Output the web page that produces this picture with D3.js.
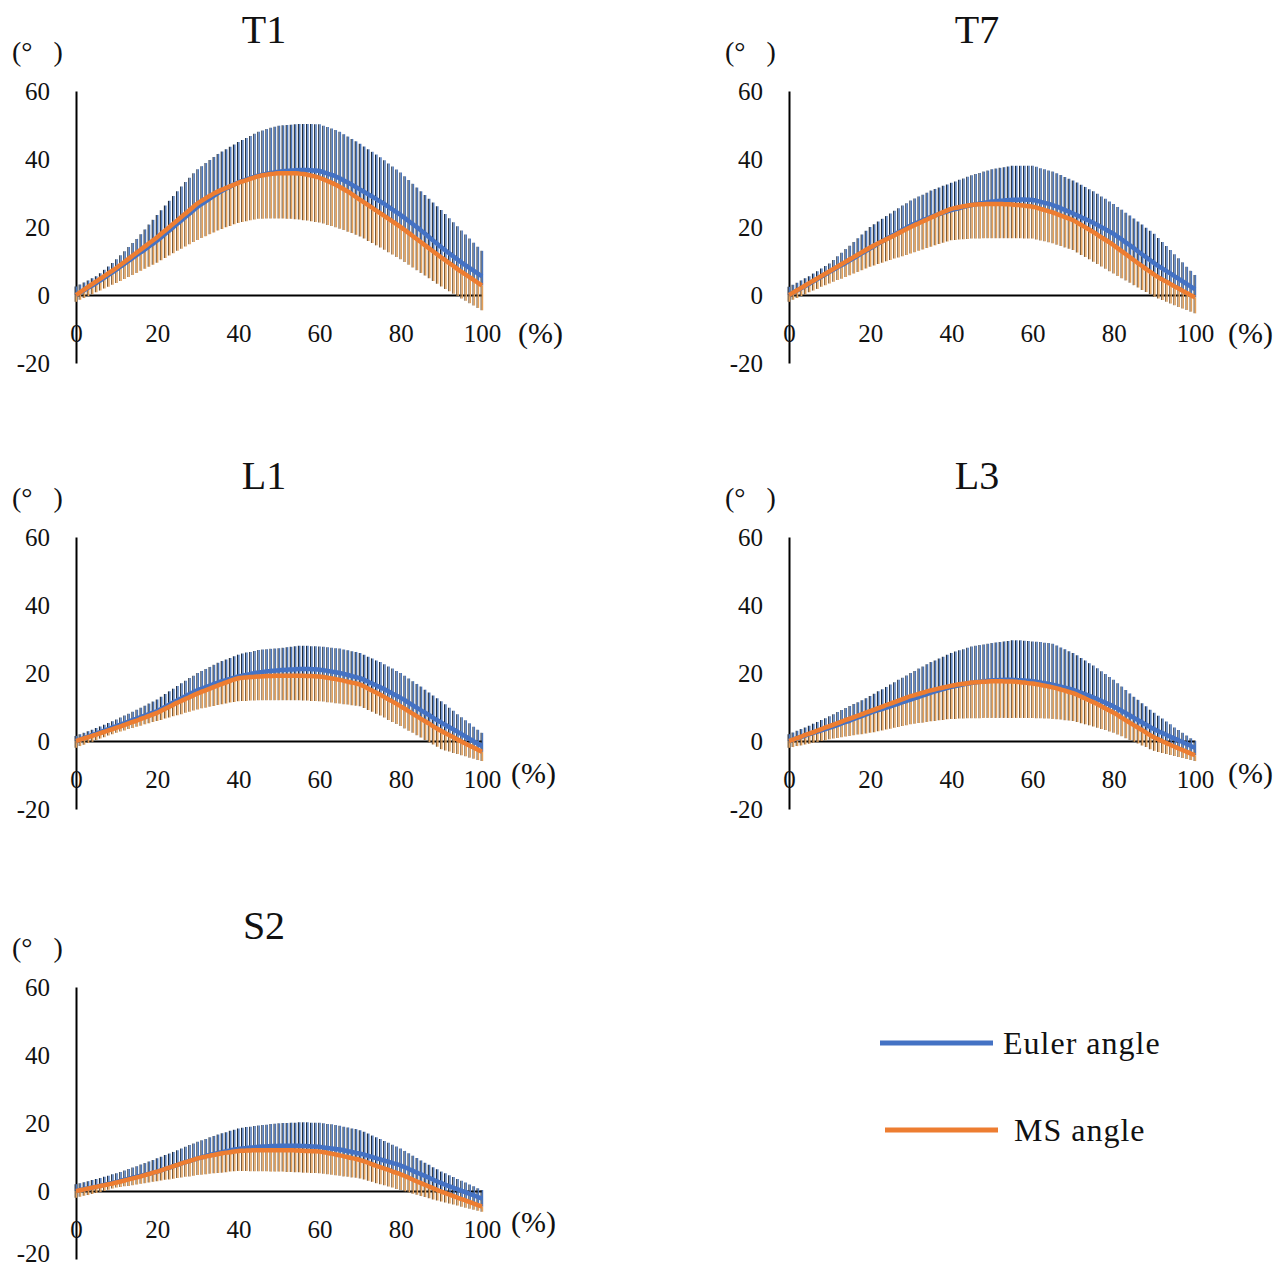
<!DOCTYPE html>
<html>
<head>
<meta charset="utf-8">
<script src="https://cdn.jsdelivr.net/npm/d3@7"></script>
<style>
  body { margin: 0; background: #fff; }
  svg { display: block; font-family: "Liberation Serif", "DejaVu Serif", serif; }
</style>
</head>
<body>
<div id="chart"></div>
<script>
// percent of motion cycle, 0..100 step 1
const pct = d3.range(0, 101);
const yTicks = [-20, 0, 20, 40, 60];
const xTicks = [0, 20, 40, 60, 80, 100];
const seriesNames = ["Euler angle", "MS angle"];

// T1
const t1Euler = [0,0.7,1.4,2.1,2.8,3.5, 4.3,5.1,5.9,6.7,7.5, 8.4,9.2,10.1,10.9,11.8, 12.6,13.4,14.3,15.1,16, 17,18,19,20,21, 22,23,24,25,26, 26.8,27.6,28.4,29.2,30, 30.7,31.3,31.9,32.6,33.2, 33.6,34,34.4,34.8,35.2, 35.4,35.7,35.9,36.1,36.3, 36.4,36.5,36.6,36.7,36.8, 36.8,36.8,36.7,36.6,36.5, 36.1,35.7,35.3,34.9,34.3, 33.7,33.1,32.4,31.7,31, 30.3,29.6,28.9,28.2,27.5, 26.7,25.9,25.1,24.3,23.5, 22.6,21.7,20.8,19.9,19, 18,17,16,15,14, 13.1,12.2,11.3,10.4,9.5, 8.7,7.9,7.1,6.3,5.5];
const t1EulerUp = [2.5,3.1,3.7,4.3,4.9,5.5, 6.4,7.4,8.4,9.4,10.5, 11.7,12.9,14.1,15.3,16.5, 17.9,19.3,20.7,22.1,23.5, 24.9,26.3,27.7,29.1,30.5, 31.9,33.2,34.5,35.8,37, 37.9,38.8,39.7,40.6,41.5, 42.2,42.9,43.6,44.3,45, 45.6,46.2,46.8,47.4,48, 48.4,48.8,49.2,49.5,49.8, 49.9,50,50.1,50.2,50.3, 50.3,50.3,50.3,50.2,50.2, 49.8,49.4,49,48.5,48, 47.3,46.6,45.9,45.2,44.5, 43.7,42.9,42.1,41.3,40.5, 39.6,38.7,37.8,36.9,36, 34.9,33.8,32.7,31.6,30.5, 29.4,28.3,27.2,26.1,25, 23.8,22.6,21.4,20.2,19, 17.8,16.6,15.4,14.2,13];
const t1Ms = [0,0.8,1.6,2.4,3.2,4, 4.8,5.6,6.4,7.2,8, 8.9,9.8,10.7,11.6,12.5, 13.4,14.3,15.2,16.1,17, 18,19,20,21,22, 23,24,25,26,27, 27.8,28.5,29.2,29.9,30.5, 31,31.5,32,32.5,33, 33.4,33.8,34.2,34.6,35, 35.2,35.4,35.6,35.7,35.8, 35.8,35.8,35.8,35.8,35.7, 35.6,35.4,35.1,34.8,34.5, 34,33.5,33,32.4,31.8, 31.1,30.4,29.6,28.8,28, 27.2,26.4,25.6,24.8,24, 23.2,22.4,21.6,20.8,20, 19.1,18.2,17.3,16.4,15.5, 14.6,13.7,12.8,11.9,11, 10.2,9.3,8.5,7.6,6.8, 6,5.2,4.4,3.6,2.8];
const t1MsLow = [-2,-1.4,-0.9,-0.3,0.2,0.8, 1.3,1.9,2.4,3,3.5, 4.1,4.7,5.3,5.9,6.5, 7.1,7.7,8.3,8.9,9.5, 10.2,10.9,11.6,12.3,13, 13.6,14.3,14.9,15.6,16.2, 16.8,17.3,17.9,18.4,19, 19.4,19.9,20.3,20.8,21.2, 21.5,21.7,22,22.2,22.4, 22.4,22.5,22.5,22.5,22.5, 22.5,22.4,22.4,22.3,22.2, 22,21.9,21.7,21.5,21.3, 21,20.6,20.3,19.9,19.5, 19.1,18.6,18.2,17.7,17.2, 16.6,15.9,15.3,14.6,14, 13.3,12.6,11.9,11.2,10.5, 9.7,8.9,8.1,7.3,6.5, 5.7,4.9,4.1,3.3,2.5, 1.8,1.1,0.4,-0.3,-1, -1.7,-2.4,-3.1,-3.8,-4.5];

// T7
const t7Euler = [0,0.7,1.3,2,2.6,3.3, 4,4.7,5.4,6.1,6.8, 7.5,8.2,8.8,9.5,10.2, 10.9,11.6,12.3,13,13.7, 14.4,15.1,15.8,16.5,17.2, 17.9,18.5,19.2,19.8,20.5, 21,21.5,22,22.5,23, 23.4,23.8,24.2,24.6,25, 25.3,25.6,25.9,26.2,26.5, 26.7,26.9,27.1,27.3,27.5, 27.6,27.7,27.8,27.9,28, 28,28.1,28.1,28,28, 27.7,27.4,27.1,26.8,26.5, 26,25.5,25,24.5,24, 23.4,22.9,22.3,21.8,21.2, 20.6,19.9,19.3,18.6,18, 17.1,16.3,15.4,14.6,13.7, 12.8,11.9,11.1,10.2,9.3, 8.5,7.8,7,6.3,5.5, 4.7,4,3.2,2.5,1.7];
const t7EulerUp = [2.4,3,3.6,4.3,4.9,5.5, 6.3,7,7.8,8.5,9.3, 10.3,11.4,12.4,13.5,14.5, 15.6,16.7,17.8,18.9,20, 20.8,21.6,22.4,23.2,24, 24.8,25.5,26.3,27,27.8, 28.4,29,29.5,30.1,30.7, 31.2,31.6,32.1,32.5,33, 33.4,33.9,34.3,34.8,35.2, 35.6,35.9,36.3,36.6,37, 37.2,37.4,37.6,37.8,38, 38,38,38,38,38, 37.7,37.3,37,36.6,36.3, 35.8,35.3,34.7,34.2,33.7, 33.1,32.4,31.8,31.1,30.5, 29.8,29,28.3,27.5,26.8, 25.9,25.1,24.2,23.4,22.5, 21.6,20.7,19.8,18.9,18, 16.8,15.6,14.4,13.2,12, 10.8,9.6,8.3,7.1,5.9];
const t7Ms = [0,0.7,1.4,2.1,2.8,3.5, 4.2,4.9,5.6,6.3,7, 7.7,8.4,9.1,9.8,10.5, 11.2,11.9,12.6,13.3,14, 14.6,15.2,15.8,16.4,17, 17.6,18.2,18.8,19.4,20, 20.6,21.1,21.7,22.2,22.8, 23.3,23.9,24.4,24.9,25.4, 25.6,25.9,26.1,26.3,26.5, 26.6,26.7,26.7,26.8,26.8, 26.8,26.8,26.7,26.7,26.6, 26.5,26.4,26.3,26.1,26, 25.7,25.3,25,24.6,24.3, 23.8,23.4,22.9,22.5,22, 21.3,20.6,19.9,19.2,18.5, 17.7,16.9,16.2,15.4,14.6, 13.7,12.8,12,11.1,10.2, 9.3,8.5,7.6,6.8,5.9, 5.2,4.5,3.9,3.2,2.5, 1.9,1.2,0.6,-0.1,-0.7];
const t7MsLow = [-2,-1.4,-0.9,-0.3,0.2,0.8, 1.3,1.8,2.4,2.9,3.4, 3.9,4.4,4.8,5.3,5.8, 6.3,6.8,7.3,7.8,8.3, 8.7,9.1,9.5,9.9,10.3, 10.7,11,11.4,11.8,12.2, 12.6,13,13.4,13.8,14.2, 14.6,15,15.4,15.7,16.1, 16.2,16.3,16.4,16.5,16.6, 16.6,16.6,16.7,16.7,16.7, 16.7,16.7,16.7,16.7,16.7, 16.7,16.7,16.6,16.6,16.6, 16.3,16,15.8,15.5,15.2, 14.8,14.4,14,13.6,13.2, 12.5,11.8,11.2,10.5,9.8, 9.1,8.4,7.7,7,6.3, 5.6,4.9,4.3,3.6,2.9, 2.2,1.5,0.9,0.2,-0.5, -1,-1.5,-2,-2.5,-3, -3.5,-4,-4.4,-4.9,-5.4];

// L1
const l1Euler = [0,0.4,0.9,1.3,1.8,2.2, 2.6,3.1,3.5,4,4.4, 4.8,5.3,5.7,6.2,6.6, 7,7.5,7.9,8.4,8.8, 9.4,10.1,10.7,11.4,12, 12.6,13.2,13.8,14.4,15, 15.4,15.9,16.3,16.8,17.2, 17.6,17.9,18.3,18.6,19, 19.2,19.5,19.7,20,20.2, 20.3,20.5,20.6,20.7,20.8, 20.9,21,21,21.1,21.2, 21.2,21.2,21.1,21.1,21, 20.8,20.6,20.4,20.2,20, 19.7,19.4,19.1,18.8,18.5, 18,17.4,16.9,16.3,15.8, 15.2,14.6,13.9,13.3,12.7, 12,11.2,10.5,9.7,9, 8.3,7.6,6.8,6.1,5.4, 4.7,4,3.4,2.7,2, 1.3,0.6,-0.1,-0.8,-1.5];
const l1EulerUp = [1.5,2,2.4,2.9,3.3,3.8, 4.3,4.8,5.3,5.8,6.3, 6.9,7.5,8,8.6,9.2, 9.8,10.4,11,11.6,12.2, 13,13.8,14.6,15.4,16.2, 17,17.7,18.5,19.2,20, 20.6,21.2,21.8,22.4,23, 23.5,24,24.4,24.9,25.4, 25.7,26,26.2,26.5,26.8, 26.9,27,27.1,27.2,27.3, 27.4,27.6,27.7,27.9,28, 28,28,27.9,27.9,27.8, 27.7,27.6,27.4,27.3,27.2, 26.9,26.7,26.4,26.2,25.9, 25.4,24.8,24.3,23.7,23.2, 22.6,21.9,21.3,20.6,20, 19.2,18.4,17.6,16.8,16, 15.1,14.3,13.4,12.6,11.7, 10.8,9.8,8.9,7.9,7, 6.1,5.2,4.2,3.3,2.4];
const l1Ms = [0,0.4,0.8,1.1,1.5,1.9, 2.3,2.7,3.1,3.5,3.9, 4.3,4.7,5.2,5.6,6, 6.5,6.9,7.4,7.8,8.3, 8.9,9.5,10.1,10.7,11.3, 11.8,12.4,12.9,13.5,14, 14.5,15,15.4,15.9,16.4, 16.8,17.2,17.7,18.1,18.5, 18.6,18.7,18.8,18.9,19, 19,19.1,19.1,19.2,19.2, 19.2,19.2,19.2,19.2,19.2, 19.2,19.1,19.1,19,19, 18.8,18.6,18.4,18.2,18, 17.7,17.4,17.2,16.9,16.6, 16,15.4,14.8,14.2,13.6, 12.9,12.2,11.6,10.9,10.2, 9.5,8.7,8,7.2,6.5, 5.8,5.1,4.3,3.6,2.9, 2.3,1.7,1.1,0.4,-0.2, -0.8,-1.4,-2,-2.6,-3.2];
const l1MsLow = [-2,-1.5,-1.1,-0.6,-0.2,0.3, 0.7,1.1,1.6,2,2.4, 2.8,3.1,3.5,3.8,4.2, 4.5,4.9,5.2,5.6,5.9, 6.2,6.6,6.9,7.3,7.6, 7.9,8.3,8.6,9,9.3, 9.6,9.8,10.1,10.3,10.6, 10.8,11,11.3,11.5,11.7, 11.8,11.8,11.9,11.9,12, 12,12,12,12,12, 12,12,12,12,12, 11.9,11.9,11.8,11.8,11.7, 11.6,11.4,11.3,11.1,11, 10.8,10.7,10.5,10.4,10.2, 9.7,9.1,8.6,8,7.5, 6.9,6.2,5.6,5,4.4, 3.7,3,2.4,1.7,1, 0.3,-0.4,-1,-1.7,-2.4, -2.8,-3.1,-3.5,-3.8,-4.2, -4.5,-4.9,-5.2,-5.6,-5.9];

// L3
const l3Euler = [0,0.4,0.8,1.2,1.6,2, 2.4,2.8,3.1,3.5,3.9, 4.3,4.7,5.2,5.6,6, 6.5,6.9,7.4,7.8,8.3, 8.7,9.1,9.4,9.8,10.2, 10.6,11,11.4,11.8,12.2, 12.6,13,13.4,13.8,14.2, 14.6,14.9,15.3,15.6,16, 16.2,16.4,16.7,16.9,17.1, 17.3,17.4,17.6,17.7,17.9, 17.9,17.9,18,18,18, 17.9,17.9,17.8,17.7,17.6, 17.4,17.2,17,16.8,16.6, 16.3,16,15.7,15.4,15.1, 14.6,14.2,13.7,13.3,12.8, 12.3,11.8,11.2,10.7,10.2, 9.5,8.8,8.2,7.5,6.8, 6.1,5.4,4.8,4.1,3.4, 2.9,2.3,1.8,1.2,0.7, 0.2,-0.4,-0.9,-1.5,-2];
const l3EulerUp = [2,2.5,3,3.5,4,4.5, 5.1,5.6,6.2,6.7,7.3, 7.9,8.5,9.1,9.7,10.3, 10.9,11.4,12,12.6,13.2, 13.9,14.6,15.2,15.9,16.6, 17.3,18,18.6,19.3,20, 20.6,21.3,21.9,22.6,23.2, 23.7,24.3,24.8,25.4,25.9, 26.3,26.7,27,27.4,27.8, 28,28.2,28.4,28.6,28.8, 29,29.1,29.3,29.4,29.6, 29.6,29.6,29.5,29.4,29.3, 29.2,29.1,28.9,28.8,28.6, 28.1,27.5,27,26.4,25.9, 25.2,24.4,23.7,22.9,22.2, 21.4,20.5,19.7,18.8,18, 17,16,15,14,13, 12.1,11.1,10.2,9.2,8.3, 7.4,6.6,5.7,4.9,4, 3.2,2.4,1.6,0.8,0];
const l3Ms = [0,0.4,0.9,1.3,1.8,2.2, 2.6,3.1,3.5,4,4.4, 4.8,5.3,5.7,6.2,6.6, 7,7.5,7.9,8.4,8.8, 9.2,9.7,10.1,10.6,11, 11.4,11.9,12.3,12.8,13.2, 13.5,13.9,14.2,14.6,14.9, 15.2,15.5,15.7,16,16.3, 16.5,16.7,16.8,17,17.2, 17.3,17.4,17.4,17.5,17.6, 17.6,17.6,17.5,17.5,17.5, 17.4,17.3,17.2,17,16.9, 16.7,16.5,16.3,16,15.8, 15.5,15.1,14.8,14.4,14.1, 13.6,13,12.5,11.9,11.4, 10.8,10.2,9.5,8.9,8.3, 7.6,6.8,6.1,5.3,4.6, 3.9,3.2,2.4,1.7,1, 0.5,-0.1,-0.6,-1.2,-1.7, -2.2,-2.7,-3.2,-3.7,-4.2];
const l3MsLow = [-2,-1.8,-1.5,-1.3,-1,-0.8, -0.5,-0.3,0,0.2,0.5, 0.7,0.9,1.1,1.3,1.5, 1.7,1.9,2,2.2,2.4, 2.6,2.9,3.1,3.4,3.6, 3.9,4.1,4.4,4.6,4.9, 5.1,5.3,5.4,5.6,5.8, 5.9,6.1,6.2,6.4,6.5, 6.5,6.6,6.6,6.7,6.7, 6.7,6.7,6.8,6.8,6.8, 6.8,6.8,6.8,6.8,6.8, 6.8,6.8,6.8,6.8,6.8, 6.7,6.7,6.6,6.6,6.5, 6.4,6.3,6.1,6,5.9, 5.6,5.2,4.9,4.6,4.3, 3.9,3.5,3.2,2.8,2.4, 1.9,1.4,0.8,0.3,-0.2, -0.7,-1.3,-1.8,-2.4,-2.9, -3.2,-3.5,-3.8,-4.1,-4.4, -4.7,-5,-5.3,-5.6,-5.9];

// S2
const s2Euler = [0,0.3,0.5,0.8,1,1.3, 1.6,1.9,2.1,2.4,2.7, 3,3.3,3.6,3.9,4.2, 4.5,4.8,5.1,5.4,5.7, 6.1,6.5,6.9,7.3,7.7, 8.1,8.5,8.8,9.2,9.6, 9.9,10.3,10.6,10.9,11.2, 11.4,11.7,11.9,12.2,12.4, 12.5,12.6,12.8,12.9,13, 13.1,13.1,13.2,13.2,13.3, 13.3,13.3,13.3,13.3,13.3, 13.2,13.2,13.1,13.1,13, 12.8,12.7,12.5,12.4,12.2, 12,11.7,11.5,11.2,11, 10.7,10.3,10,9.6,9.3, 8.9,8.6,8.2,7.9,7.5, 7,6.5,5.9,5.4,4.9, 4.4,3.9,3.3,2.8,2.3, 1.8,1.4,0.9,0.5,0, -0.4,-0.9,-1.3,-1.8,-2.2];
const s2EulerUp = [2,2.3,2.6,2.9,3.2,3.5, 3.8,4.2,4.5,4.9,5.2, 5.6,6,6.5,6.9,7.3, 7.8,8.2,8.7,9.1,9.6, 10.1,10.6,11,11.5,12, 12.5,13,13.5,14,14.5, 14.9,15.3,15.8,16.2,16.6, 17,17.3,17.7,18,18.4, 18.6,18.8,18.9,19.1,19.3, 19.4,19.5,19.7,19.8,19.9, 20,20,20.1,20.1,20.2, 20.2,20.2,20.1,20.1,20.1, 19.9,19.7,19.6,19.4,19.2, 18.9,18.7,18.4,18.2,17.9, 17.4,16.9,16.3,15.8,15.3, 14.7,14.2,13.6,13.1,12.5, 11.8,11.1,10.4,9.7,9, 8.3,7.7,7,6.4,5.7, 5.2,4.6,4.1,3.5,3, 2.5,1.9,1.4,0.8,0.3];
const s2Ms = [0,0.2,0.5,0.7,1,1.2, 1.5,1.7,2,2.2,2.5, 2.8,3.1,3.4,3.7,4, 4.3,4.7,5,5.4,5.7, 6.1,6.5,6.9,7.3,7.7, 8.1,8.5,8.8,9.2,9.6, 9.9,10.1,10.4,10.6,10.9, 11.1,11.3,11.4,11.6,11.8, 11.8,11.9,11.9,12,12, 12,12,12,12,12, 12,12,12,11.9,11.9, 11.8,11.8,11.7,11.7,11.6, 11.4,11.2,11,10.7,10.5, 10.2,9.9,9.7,9.4,9.1, 8.7,8.3,7.8,7.4,7, 6.6,6.2,5.7,5.3,4.9, 4.4,3.9,3.3,2.8,2.3, 1.8,1.3,0.8,0.3,-0.2, -0.6,-1.1,-1.5,-2,-2.4, -2.8,-3.3,-3.7,-4.2,-4.6];
const s2MsLow = [-2,-1.7,-1.4,-1.2,-0.9,-0.6, -0.3,0,0.4,0.7,1, 1.2,1.4,1.5,1.7,1.9, 2.1,2.3,2.5,2.7,2.9, 3.1,3.3,3.4,3.6,3.8, 4,4.2,4.3,4.5,4.7, 4.8,4.9,5.1,5.2,5.3, 5.4,5.5,5.7,5.8,5.9, 5.9,5.9,5.8,5.8,5.8, 5.8,5.8,5.7,5.7,5.7, 5.7,5.6,5.6,5.5,5.5, 5.4,5.4,5.3,5.3,5.2, 5.1,4.9,4.8,4.6,4.5, 4.3,4.2,4,3.9,3.7, 3.4,3,2.7,2.3,2, 1.7,1.3,1,0.6,0.3, -0.1,-0.4,-0.8,-1.1,-1.5, -1.8,-2.1,-2.5,-2.8,-3.1, -3.4,-3.7,-4,-4.3,-4.6, -4.9,-5.2,-5.5,-5.8,-6.1];

const panels = [
  {title: "T1", x0: 76,  y0: 295,  euler: t1Euler, eulerUp: t1EulerUp, ms: t1Ms, msLow: t1MsLow, pctDx: 442, pctDy: 38},
  {title: "T7", x0: 789, y0: 295,  euler: t7Euler, eulerUp: t7EulerUp, ms: t7Ms, msLow: t7MsLow, pctDx: 439, pctDy: 38},
  {title: "L1", x0: 76,  y0: 741,  euler: l1Euler, eulerUp: l1EulerUp, ms: l1Ms, msLow: l1MsLow, pctDx: 435, pctDy: 32},
  {title: "L3", x0: 789, y0: 741,  euler: l3Euler, eulerUp: l3EulerUp, ms: l3Ms, msLow: l3MsLow, pctDx: 439, pctDy: 32},
  {title: "S2", x0: 76,  y0: 1191, euler: s2Euler, eulerUp: s2EulerUp, ms: s2Ms, msLow: s2MsLow, pctDx: 435, pctDy: 31}
];

const BLUE = "#4472c4", ORANGE = "#ed7d31";
const FONT = "Liberation Serif, DejaVu Serif, serif";

const svg = d3.select("#chart").append("svg")
  .attr("width", 1280).attr("height", 1270);

panels.forEach((p, k) => {
  const x = d3.scaleLinear().domain([0, 100]).range([p.x0, p.x0 + 406]);
  const y = d3.scaleLinear().domain([-20, 60]).range([p.y0 + 68, p.y0 - 204]);
  const g = svg.append("g").attr("class", "panel");

  // y axis: vertical line + labels (plain hyphen for negatives)
  const yAxis = d3.axisLeft(y).tickValues(yTicks).tickFormat(d => String(d))
    .tickSize(0).tickSizeOuter(0).tickPadding(26);
  const yG = g.append("g").attr("transform", `translate(${p.x0},0)`).call(yAxis);
  yG.select(".domain").attr("stroke", "#000").attr("stroke-width", 2);
  yG.selectAll("text").attr("font-size", 25).attr("fill", "#111").attr("font-family", FONT);
  // bottom panel: keep the -20 label inside the page
  if (k === panels.length - 1) {
    yG.selectAll(".tick").filter(d => d === -20).select("text").attr("dy", "0.1em");
  }

  // x axis on the zero line
  const xAxis = d3.axisBottom(x).tickValues(xTicks).tickSize(0).tickSizeOuter(0).tickPadding(29);
  const xG = g.append("g").attr("transform", `translate(0,${y(0)})`).call(xAxis);
  xG.select(".domain").attr("stroke", "#000").attr("stroke-width", 2);
  xG.selectAll("text").attr("font-size", 25).attr("fill", "#111").attr("font-family", FONT);

  // error bars: Euler +SD (blue, up from the lower mean), MS -SD (orange, down)
  const bars = (from, ends, col, dark) => {
    const bg = g.append("g");
    bg.selectAll("line.dk").data(pct).join("line").attr("class", "dk")
      .attr("x1", i => x(i) - 0.9).attr("x2", i => x(i) - 0.9)
      .attr("y1", i => y(from(i))).attr("y2", i => y(ends[i]))
      .attr("stroke", dark).attr("stroke-width", 1.1);
    bg.selectAll("line.cl").data(pct).join("line").attr("class", "cl")
      .attr("x1", i => x(i) + 0.5).attr("x2", i => x(i) + 0.5)
      .attr("y1", i => y(from(i))).attr("y2", i => y(ends[i]))
      .attr("stroke", col).attr("stroke-width", 1.4);
  };
  bars(i => Math.min(p.euler[i], p.ms[i]), p.eulerUp, "#4a76bd", "#1f2b3a");
  bars(i => p.ms[i], p.msLow, "#e5a058", "#7a5a38");

  const line = vals => d3.line().curve(d3.curveBasis).x(i => x(i)).y(i => y(vals[i]))(pct);
  g.append("path").attr("d", line(p.euler)).attr("fill", "none")
    .attr("stroke", BLUE).attr("stroke-width", 4.5).attr("stroke-linejoin", "round");
  g.append("path").attr("d", line(p.ms)).attr("fill", "none")
    .attr("stroke", ORANGE).attr("stroke-width", 4.5).attr("stroke-linejoin", "round");

  // title and unit labels
  g.append("text").attr("x", p.x0 + 188).attr("y", p.y0 - 252)
    .attr("text-anchor", "middle").attr("font-size", 40).attr("fill", "#111").text(p.title);
  g.append("text").attr("x", p.x0 - 64).attr("y", p.y0 - 234)
    .attr("font-size", 28).attr("fill", "#111").style("white-space", "pre").text("(°   )");
  g.append("text").attr("x", p.x0 + p.pctDx).attr("y", p.y0 + p.pctDy + 10)
    .attr("font-size", 30).attr("fill", "#111").text("(%)");
});

// legend
const legend = svg.append("g");
const legendItems = [
  {name: seriesNames[0], color: BLUE, x1: 880, x2: 993, y: 1043, tx: 1003},
  {name: seriesNames[1], color: ORANGE, x1: 885, x2: 998, y: 1130, tx: 1014}
];
legendItems.forEach(d => {
  legend.append("line").attr("x1", d.x1).attr("x2", d.x2).attr("y1", d.y).attr("y2", d.y)
    .attr("stroke", d.color).attr("stroke-width", 5);
  legend.append("text").attr("x", d.tx).attr("y", d.y + 11)
    .attr("font-size", 32).attr("letter-spacing", 1).attr("fill", "#111").text(d.name);
});
</script>
</body>
</html>
